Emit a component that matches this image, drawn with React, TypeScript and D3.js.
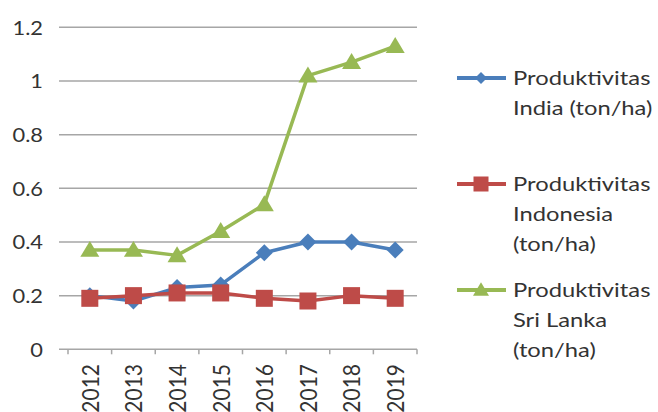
import React from "react";
import * as d3 from "d3";

const years = ["2012", "2013", "2014", "2015", "2016", "2017", "2018", "2019"];
const india = [0.2, 0.18, 0.23, 0.24, 0.36, 0.4, 0.4, 0.37];
const indonesia = [0.19, 0.2, 0.21, 0.21, 0.19, 0.18, 0.2, 0.19];
const sriLanka = [0.37, 0.37, 0.35, 0.44, 0.54, 1.02, 1.07, 1.13];
const yTicks = [0, 0.2, 0.4, 0.6, 0.8, 1, 1.2];

const seriesNames = [
  ["Produktivitas", "India (ton/ha)"],
  ["Produktivitas", "Indonesia", "(ton/ha)"],
  ["Produktivitas", "Sri Lanka", "(ton/ha)"],
];
const seriesValues = [india, indonesia, sriLanka];
const seriesColors = ["#4a7ebb", "#be4b48", "#98b954"];
const seriesMarkers = ["diamond", "square", "triangle"];

const W = 658;
const H = 412;
const FONT = "Lato, 'Open Sans', sans-serif";
const TEXT = "#333333";
const GRID = "#a6a6a6";
const SX = 1.25; // horizontal text stretch

function Marker({ type, x, y, size, color }: { type: string; x: number; y: number; size: number; color: string }) {
  const h = size / 2;
  if (type === "diamond") {
    return <path d={`M${x},${y - h}L${x + h},${y}L${x},${y + h}L${x - h},${y}Z`} fill={color} />;
  }
  if (type === "square") {
    return <rect x={x - h} y={y - h} width={size} height={size} fill={color} />;
  }
  const th = size * 0.8;
  return (
    <path
      d={`M${x},${y - th * 0.6}L${x + h},${y + th * 0.45}L${x - h},${y + th * 0.45}Z`}
      fill={color}
    />
  );
}

export default function App() {
  const y = d3.scaleLinear().domain([0, 1.2]).range([349.3, 27.3]);
  const x = d3.scaleBand<string>().domain(years).range([68, 417]);
  const gridLeft = 59;
  const gridRight = 417;
  const cx = (yr: string) => (x(yr) as number) + x.bandwidth() / 2;
  const line = d3
    .line<number>()
    .x((_, i) => cx(years[i]))
    .y((v) => y(v));

  const markerSize = [17, 17, 19];
  const legendRows = [
    [78, 108],
    [184, 214, 244],
    [290, 320, 350],
  ];
  const boundaries = years.map((yr) => x(yr) as number).concat([x.range()[1]]);

  return (
    <svg
      width={W}
      height={H}
      style={{ position: "absolute", left: 0, top: 0, background: "#fff" }}
      fontFamily={FONT}
    >
      <rect width={W} height={H} fill="#fff" />
      {yTicks.map((t) => (
        <g key={t}>
          <line x1={gridLeft} x2={gridRight} y1={y(t)} y2={y(t)} stroke={GRID} strokeWidth={1.5} />
          <text
            transform={`translate(43,${y(t)}) scale(1.15,1)`}
            textAnchor="end"
            dominantBaseline="central"
            fontSize={19}
            fill={TEXT}
          >
            {String(t)}
          </text>
        </g>
      ))}
      {boundaries.map((b, i) => (
        <line key={i} x1={b} x2={b} y1={y(0)} y2={y(0) + 5} stroke={GRID} strokeWidth={1.5} />
      ))}
      {years.map((yr) => (
        <text
          key={yr}
          transform={`translate(${cx(yr)},364) scale(1.1,1) rotate(-90)`}
          textAnchor="end"
          dominantBaseline="central"
          fontSize={21}
          fill={TEXT}
        >
          {yr}
        </text>
      ))}
      {seriesValues.map((vals, s) => (
        <g key={s}>
          <path d={line(vals) as string} fill="none" stroke={seriesColors[s]} strokeWidth={3.5} strokeLinejoin="round" />
          {vals.map((v, i) => (
            <Marker key={i} type={seriesMarkers[s]} x={cx(years[i])} y={y(v)} size={markerSize[s]} color={seriesColors[s]} />
          ))}
        </g>
      ))}
      {seriesNames.map((rows, s) => (
        <g key={s}>
          <line x1={457} x2={506} y1={legendRows[s][0]} y2={legendRows[s][0]} stroke={seriesColors[s]} strokeWidth={4} />
          <Marker type={seriesMarkers[s]} x={481} y={legendRows[s][0]} size={[12, 15, 16][s]} color={seriesColors[s]} />
          {rows.map((r, j) => (
            <text
              key={j}
              transform={`translate(513,${legendRows[s][j]}) scale(${SX},1)`}
              dominantBaseline="central"
              fontSize={19}
              fill={TEXT}
            >
              {r}
            </text>
          ))}
        </g>
      ))}
    </svg>
  );
}
